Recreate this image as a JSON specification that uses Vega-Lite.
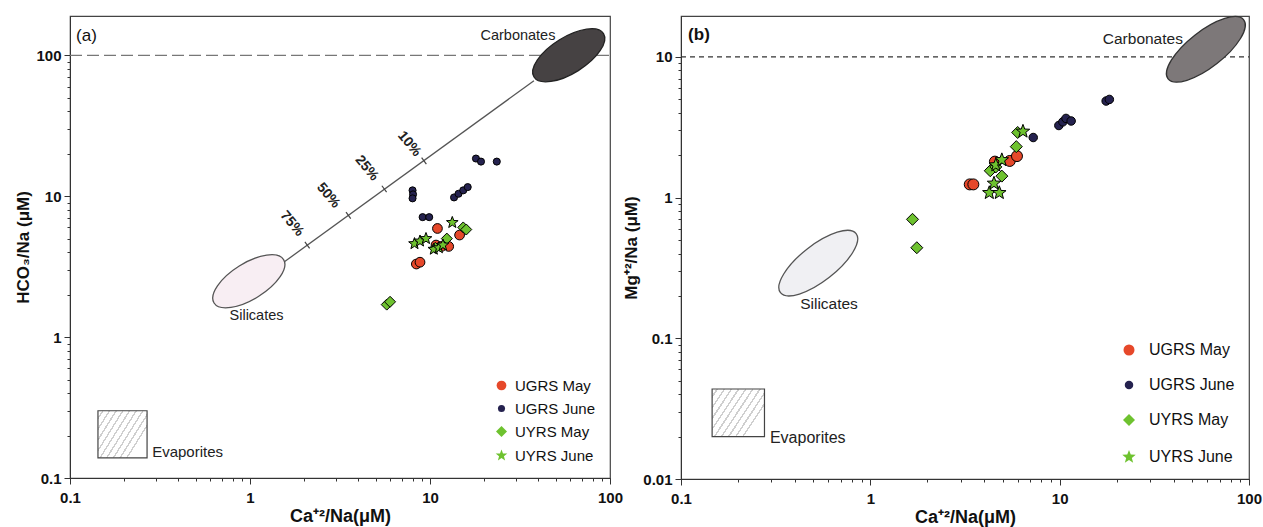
{
  "$schema": "https://vega.github.io/schema/vega-lite/v6.json",
  "background": "white",
  "padding": {"left": 14, "top": 13, "right": 0, "bottom": 0},
  "bounds": "flush",
  "spacing": 71,
  "config": {
    "view": {"stroke": "#444", "strokeWidth": 1.2},
    "font": "Liberation Sans",
    "axis": {
      "labelFont": "Liberation Sans", "labelFontSize": 15, "labelFontWeight": "bold", "labelColor": "#111",
      "titleFont": "Liberation Sans", "titleFontSize": 18, "titleFontWeight": "bold", "titleColor": "#111",
      "grid": false, "domainColor": "#333", "tickColor": "#333", "labelOverlap": false, "labelFlush": false, "labelBound": false
    }
  },
  "resolve": {
    "scale": {"fill": "independent", "shape": "independent", "size": "independent"},
    "legend": {"fill": "independent", "shape": "independent", "size": "independent"}
  },
  "hconcat": [
    {
      "width": 540, "height": 462,
      "encoding": {
        "x": {"field": "x", "type": "quantitative",
          "scale": {"type": "log", "domain": [0.1, 100], "nice": false},
          "axis": {"title": "Ca⁺²/Na(μM)",
            "values": [0.1,0.2,0.3,0.4,0.5,0.6,0.7,0.8,0.9,1,2,3,4,5,6,7,8,9,10,20,30,40,50,60,70,80,90,100],
            "labelExpr": "abs(log(datum.value)/LN10 - round(log(datum.value)/LN10)) < 0.01 ? format(datum.value, '~g') : ''",
            "tickSize": {"condition": {"test": "abs(log(datum.value)/LN10 - round(log(datum.value)/LN10)) < 0.01", "value": 6}, "value": 3},
            "labelPadding": 6, "titlePadding": 2}},
        "y": {"field": "y", "type": "quantitative",
          "scale": {"type": "log", "domain": [0.1, 190], "nice": false},
          "axis": {"title": "HCO₃/Na (μM)",
            "values": [0.1,0.2,0.3,0.4,0.5,0.6,0.7,0.8,0.9,1,2,3,4,5,6,7,8,9,10,20,30,40,50,60,70,80,90,100],
            "labelExpr": "abs(log(datum.value)/LN10 - round(log(datum.value)/LN10)) < 0.01 ? format(datum.value, '~g') : ''",
            "tickSize": {"condition": {"test": "abs(log(datum.value)/LN10 - round(log(datum.value)/LN10)) < 0.01", "value": 6}, "value": 3},
            "labelPadding": 3, "titlePadding": 3, "titleFontSize": 17}}
      },
      "layer": [
        {
          "data": {"values": [{"x": 0.1, "y": 100}, {"x": 100, "y": 100}]},
          "mark": {"type": "line", "color": "#777", "strokeWidth": 1.3, "strokeDash": [12, 5]}
        },
        {
          "data": {"values": [{"x": 0.143, "x2": 0.268, "y": 0.139, "y2": 0.30}]},
          "mark": {"type": "rect", "stroke": "#444", "strokeWidth": 1.2,
            "fill": {"gradient": "linear", "x1": 0, "y1": 0, "x2": 1, "y2": 0.6, "stops": [
              {"offset": 0, "color": "#ffffff"}, {"offset": 0.06, "color": "#ffffff"}, {"offset": 0.06, "color": "#cfcfcf"}, {"offset": 0.085, "color": "#cfcfcf"},
              {"offset": 0.085, "color": "#ffffff"}, {"offset": 0.16, "color": "#ffffff"}, {"offset": 0.16, "color": "#cfcfcf"}, {"offset": 0.185, "color": "#cfcfcf"},
              {"offset": 0.185, "color": "#ffffff"}, {"offset": 0.26, "color": "#ffffff"}, {"offset": 0.26, "color": "#cfcfcf"}, {"offset": 0.285, "color": "#cfcfcf"},
              {"offset": 0.285, "color": "#ffffff"}, {"offset": 0.36, "color": "#ffffff"}, {"offset": 0.36, "color": "#cfcfcf"}, {"offset": 0.385, "color": "#cfcfcf"},
              {"offset": 0.385, "color": "#ffffff"}, {"offset": 0.46, "color": "#ffffff"}, {"offset": 0.46, "color": "#cfcfcf"}, {"offset": 0.485, "color": "#cfcfcf"},
              {"offset": 0.485, "color": "#ffffff"}, {"offset": 0.56, "color": "#ffffff"}, {"offset": 0.56, "color": "#cfcfcf"}, {"offset": 0.585, "color": "#cfcfcf"},
              {"offset": 0.585, "color": "#ffffff"}, {"offset": 0.66, "color": "#ffffff"}, {"offset": 0.66, "color": "#cfcfcf"}, {"offset": 0.685, "color": "#cfcfcf"},
              {"offset": 0.685, "color": "#ffffff"}, {"offset": 0.76, "color": "#ffffff"}, {"offset": 0.76, "color": "#cfcfcf"}, {"offset": 0.785, "color": "#cfcfcf"},
              {"offset": 0.785, "color": "#ffffff"}, {"offset": 0.86, "color": "#ffffff"}, {"offset": 0.86, "color": "#cfcfcf"}, {"offset": 0.885, "color": "#cfcfcf"},
              {"offset": 0.885, "color": "#ffffff"}, {"offset": 1, "color": "#ffffff"}]}},
          "encoding": {"x2": {"field": "x2"}, "y2": {"field": "y2"}}
        },
        {
          "data": {"values": [{"x": 0.985, "y": 2.49}]},
          "mark": {"type": "point", "filled": true, "opacity": 1, "fill": "#f8eef3", "stroke": "#555", "strokeWidth": 1.3, "size": 6724, "angle": -32,
            "shape": "M-1,0C-1,-0.243,-0.552,-0.44,0,-0.44C0.552,-0.44,1,-0.243,1,0C1,0.243,0.552,0.44,0,0.44C-0.552,0.44,-1,0.243,-1,0Z"}
        },
        {
          "data": {"values": [{"x": 1.56, "y": 3.44}, {"x": 37.8, "y": 66}]},
          "mark": {"type": "line", "color": "#555", "strokeWidth": 1.3}
        },
        {
          "data": {"values": [{"x": 59.0, "y": 100}]},
          "mark": {"type": "point", "filled": true, "opacity": 1, "fill": "#464243", "stroke": "#222", "strokeWidth": 1.3, "size": 6724, "angle": -32,
            "shape": "M-1,0C-1,-0.243,-0.552,-0.44,0,-0.44C0.552,-0.44,1,-0.243,1,0C1,0.243,0.552,0.44,0,0.44C-0.552,0.44,-1,0.243,-1,0Z"}
        },
        {
          "data": {"values": [{"x": 2.08, "y": 4.5}, {"x": 3.52, "y": 7.3}, {"x": 5.57, "y": 11.25}, {"x": 9.26, "y": 17.8}]},
          "mark": {"type": "point", "shape": "stroke", "filled": false, "opacity": 1, "stroke": "#444", "strokeWidth": 1.2, "size": 64, "angle": 54}
        },
        {
          "data": {"values": [{"x": 1.71, "y": 6.37, "label": "75%"}, {"x": 2.72, "y": 10.1, "label": "50%"}, {"x": 4.45, "y": 15.8, "label": "25%"}, {"x": 7.67, "y": 23.5, "label": "10%"}]},
          "mark": {"type": "text", "angle": 50, "fontSize": 14, "fontWeight": "bold", "font": "Liberation Sans", "color": "#222", "align": "center", "baseline": "middle"},
          "encoding": {"text": {"field": "label"}}
        },
        {
          "data": {"values": [{"x": 30.8, "y": 138, "label": "Carbonates"}, {"x": 1.087, "y": 1.41, "label": "Silicates"}]},
          "mark": {"type": "text", "fontSize": 14.5, "font": "Liberation Sans", "color": "#222", "align": "center", "baseline": "middle"},
          "encoding": {"text": {"field": "label"}}
        },
        {
          "data": {"values": [{"x": 0.286, "y": 0.153, "label": "Evaporites"}]},
          "mark": {"type": "text", "fontSize": 15, "font": "Liberation Sans", "color": "#222", "align": "left", "baseline": "middle"},
          "encoding": {"text": {"field": "label"}}
        },
        {
          "data": {"values": [{"x": 0.108, "y": 136, "label": "(a)"}]},
          "mark": {"type": "text", "fontSize": 17, "font": "Liberation Sans", "color": "#111", "align": "left", "baseline": "middle"},
          "encoding": {"text": {"field": "label"}}
        },
        {
          "data": {"values": [
            {"x": 8.0, "y": 11.0, "series": "UGRS June"}, {"x": 8.05, "y": 10.3, "series": "UGRS June"}, {"x": 8.0, "y": 9.65, "series": "UGRS June"},
            {"x": 9.1, "y": 7.1, "series": "UGRS June"}, {"x": 9.9, "y": 7.1, "series": "UGRS June"},
            {"x": 13.6, "y": 9.8, "series": "UGRS June"}, {"x": 14.4, "y": 10.4, "series": "UGRS June"}, {"x": 15.3, "y": 11.0, "series": "UGRS June"}, {"x": 16.2, "y": 11.6, "series": "UGRS June"},
            {"x": 18.0, "y": 18.5, "series": "UGRS June"}, {"x": 19.2, "y": 17.6, "series": "UGRS June"}, {"x": 23.5, "y": 17.6, "series": "UGRS June"},
            {"x": 11.0, "y": 5.9, "series": "UGRS May"}, {"x": 8.4, "y": 3.3, "series": "UGRS May"}, {"x": 8.8, "y": 3.4, "series": "UGRS May"},
            {"x": 14.6, "y": 5.3, "series": "UGRS May"}, {"x": 10.8, "y": 4.5, "series": "UGRS May"}, {"x": 11.6, "y": 4.4, "series": "UGRS May"}, {"x": 12.7, "y": 4.4, "series": "UGRS May"},
            {"x": 5.75, "y": 1.70, "series": "UYRS May"}, {"x": 6.0, "y": 1.78, "series": "UYRS May"}, {"x": 15.3, "y": 6.0, "series": "UYRS May"},
            {"x": 15.9, "y": 5.8, "series": "UYRS May"}, {"x": 12.4, "y": 5.0, "series": "UYRS May"}, {"x": 10.7, "y": 4.3, "series": "UYRS May"},
            {"x": 8.2, "y": 4.6, "series": "UYRS June"}, {"x": 8.8, "y": 4.8, "series": "UYRS June"}, {"x": 9.5, "y": 5.0, "series": "UYRS June"},
            {"x": 13.3, "y": 6.5, "series": "UYRS June"}, {"x": 10.5, "y": 4.2, "series": "UYRS June"}, {"x": 11.2, "y": 4.3, "series": "UYRS June"}, {"x": 11.8, "y": 4.5, "series": "UYRS June"}
          ]},
          "mark": {"type": "point", "filled": true, "opacity": 1, "stroke": "#000", "strokeWidth": 1},
          "encoding": {
            "fill": {"field": "series", "type": "nominal",
              "scale": {"domain": ["UGRS May", "UGRS June", "UYRS May", "UYRS June"], "range": ["#e6482a", "#25224f", "#6ec22f", "#6ec22f"]},
              "legend": {"orient": "bottom-right", "offset": 14, "title": null, "labelFont": "Liberation Sans", "labelFontSize": 15, "labelColor": "#111", "rowPadding": 7, "labelOffset": 6, "symbolStrokeColor": "#000", "symbolStrokeWidth": 1, "padding": 0,
                "encode": {"symbols": {"update": {"stroke": {"value": "#000"}, "strokeWidth": {"value": 1}}}}}},
            "shape": {"field": "series", "type": "nominal",
              "scale": {"domain": ["UGRS May", "UGRS June", "UYRS May", "UYRS June"], "range": ["circle", "circle", "diamond", "M0,-1L0.247,-0.34L0.951,-0.309L0.399,0.13L0.588,0.809L0,0.42L-0.588,0.809L-0.399,0.13L-0.951,-0.309L-0.247,-0.34Z"]},
              "legend": {"orient": "bottom-right", "offset": 14, "title": null, "labelFont": "Liberation Sans", "labelFontSize": 15, "labelColor": "#111", "rowPadding": 7, "labelOffset": 6, "symbolStrokeColor": "#000", "symbolStrokeWidth": 1, "padding": 0,
                "encode": {"symbols": {"update": {"stroke": {"value": "#000"}, "strokeWidth": {"value": 1}}}}}},
            "size": {"field": "series", "type": "nominal",
              "scale": {"type": "ordinal", "domain": ["UGRS May", "UGRS June", "UYRS May", "UYRS June"], "range": [95, 50, 121, 150]},
              "legend": {"orient": "bottom-right", "offset": 14, "title": null, "labelFont": "Liberation Sans", "labelFontSize": 15, "labelColor": "#111", "rowPadding": 7, "labelOffset": 6, "symbolStrokeColor": "#000", "symbolStrokeWidth": 1, "padding": 0,
                "encode": {"symbols": {"update": {"stroke": {"value": "#000"}, "strokeWidth": {"value": 1}}}}}}
          }
        }
      ]
    },
    {
      "width": 568, "height": 463,
      "encoding": {
        "x": {"field": "x", "type": "quantitative",
          "scale": {"type": "log", "domain": [0.1, 100], "nice": false},
          "axis": {"title": "Ca⁺²/Na(μM)",
            "values": [0.1,0.2,0.3,0.4,0.5,0.6,0.7,0.8,0.9,1,2,3,4,5,6,7,8,9,10,20,30,40,50,60,70,80,90,100],
            "labelExpr": "abs(log(datum.value)/LN10 - round(log(datum.value)/LN10)) < 0.01 ? format(datum.value, '~g') : ''",
            "tickSize": {"condition": {"test": "abs(log(datum.value)/LN10 - round(log(datum.value)/LN10)) < 0.01", "value": 6}, "value": 3},
            "labelPadding": 6, "titlePadding": 2}},
        "y": {"field": "y", "type": "quantitative",
          "scale": {"type": "log", "domain": [0.01, 19.5], "nice": false},
          "axis": {"title": "Mg⁺²/Na (μM)",
            "values": [0.01,0.02,0.03,0.04,0.05,0.06,0.07,0.08,0.09,0.1,0.2,0.3,0.4,0.5,0.6,0.7,0.8,0.9,1,2,3,4,5,6,7,8,9,10],
            "labelExpr": "abs(log(datum.value)/LN10 - round(log(datum.value)/LN10)) < 0.01 ? format(datum.value, '~g') : ''",
            "tickSize": {"condition": {"test": "abs(log(datum.value)/LN10 - round(log(datum.value)/LN10)) < 0.01", "value": 6}, "value": 3},
            "labelPadding": 3, "titlePadding": 2, "titleFontSize": 17}}
      },
      "layer": [
        {
          "data": {"values": [{"x": 0.1, "y": 10}, {"x": 100, "y": 10}]},
          "mark": {"type": "line", "color": "#333", "strokeWidth": 1.2, "strokeDash": [5, 4]}
        },
        {
          "data": {"values": [{"x": 0.146, "x2": 0.276, "y": 0.020, "y2": 0.0436}]},
          "mark": {"type": "rect", "stroke": "#444", "strokeWidth": 1.2,
            "fill": {"gradient": "linear", "x1": 0, "y1": 0, "x2": 1, "y2": 0.6, "stops": [
              {"offset": 0, "color": "#ffffff"}, {"offset": 0.06, "color": "#ffffff"}, {"offset": 0.06, "color": "#cfcfcf"}, {"offset": 0.085, "color": "#cfcfcf"},
              {"offset": 0.085, "color": "#ffffff"}, {"offset": 0.16, "color": "#ffffff"}, {"offset": 0.16, "color": "#cfcfcf"}, {"offset": 0.185, "color": "#cfcfcf"},
              {"offset": 0.185, "color": "#ffffff"}, {"offset": 0.26, "color": "#ffffff"}, {"offset": 0.26, "color": "#cfcfcf"}, {"offset": 0.285, "color": "#cfcfcf"},
              {"offset": 0.285, "color": "#ffffff"}, {"offset": 0.36, "color": "#ffffff"}, {"offset": 0.36, "color": "#cfcfcf"}, {"offset": 0.385, "color": "#cfcfcf"},
              {"offset": 0.385, "color": "#ffffff"}, {"offset": 0.46, "color": "#ffffff"}, {"offset": 0.46, "color": "#cfcfcf"}, {"offset": 0.485, "color": "#cfcfcf"},
              {"offset": 0.485, "color": "#ffffff"}, {"offset": 0.56, "color": "#ffffff"}, {"offset": 0.56, "color": "#cfcfcf"}, {"offset": 0.585, "color": "#cfcfcf"},
              {"offset": 0.585, "color": "#ffffff"}, {"offset": 0.66, "color": "#ffffff"}, {"offset": 0.66, "color": "#cfcfcf"}, {"offset": 0.685, "color": "#cfcfcf"},
              {"offset": 0.685, "color": "#ffffff"}, {"offset": 0.76, "color": "#ffffff"}, {"offset": 0.76, "color": "#cfcfcf"}, {"offset": 0.785, "color": "#cfcfcf"},
              {"offset": 0.785, "color": "#ffffff"}, {"offset": 0.86, "color": "#ffffff"}, {"offset": 0.86, "color": "#cfcfcf"}, {"offset": 0.885, "color": "#cfcfcf"},
              {"offset": 0.885, "color": "#ffffff"}, {"offset": 1, "color": "#ffffff"}]}},
          "encoding": {"x2": {"field": "x2"}, "y2": {"field": "y2"}}
        },
        {
          "data": {"values": [{"x": 0.531, "y": 0.342}]},
          "mark": {"type": "point", "filled": true, "opacity": 1, "fill": "#f0f0f3", "stroke": "#555", "strokeWidth": 1.3, "size": 9216, "angle": -38,
            "shape": "M-1,0C-1,-0.207,-0.552,-0.375,0,-0.375C0.552,-0.375,1,-0.207,1,0C1,0.207,0.552,0.375,0,0.375C-0.552,0.375,-1,0.207,-1,0Z"}
        },
        {
          "data": {"values": [{"x": 59.2, "y": 11.3}]},
          "mark": {"type": "point", "filled": true, "opacity": 1, "fill": "#7d7879", "stroke": "#333", "strokeWidth": 1.3, "size": 9216, "angle": -38,
            "shape": "M-1,0C-1,-0.207,-0.552,-0.375,0,-0.375C0.552,-0.375,1,-0.207,1,0C1,0.207,0.552,0.375,0,0.375C-0.552,0.375,-1,0.207,-1,0Z"}
        },
        {
          "data": {"values": [{"x": 27.5, "y": 13.4, "label": "Carbonates"}, {"x": 0.605, "y": 0.176, "label": "Silicates"}]},
          "mark": {"type": "text", "fontSize": 15.5, "font": "Liberation Sans", "color": "#222", "align": "center", "baseline": "middle"},
          "encoding": {"text": {"field": "label"}}
        },
        {
          "data": {"values": [{"x": 0.295, "y": 0.0196, "label": "Evaporites"}]},
          "mark": {"type": "text", "fontSize": 16, "font": "Liberation Sans", "color": "#222", "align": "left", "baseline": "middle"},
          "encoding": {"text": {"field": "label"}}
        },
        {
          "data": {"values": [{"x": 0.109, "y": 14.2, "label": "(b)"}]},
          "mark": {"type": "text", "fontSize": 17, "fontWeight": "bold", "font": "Liberation Sans", "color": "#111", "align": "left", "baseline": "middle"},
          "encoding": {"text": {"field": "label"}}
        },
        {
          "data": {"values": [
            {"x": 7.25, "y": 2.67, "series": "UGRS June"}, {"x": 9.9, "y": 3.25, "series": "UGRS June"}, {"x": 10.4, "y": 3.45, "series": "UGRS June"},
            {"x": 10.8, "y": 3.65, "series": "UGRS June"}, {"x": 11.5, "y": 3.5, "series": "UGRS June"}, {"x": 17.6, "y": 4.85, "series": "UGRS June"}, {"x": 18.3, "y": 4.98, "series": "UGRS June"},
            {"x": 3.35, "y": 1.24, "series": "UGRS May"}, {"x": 3.5, "y": 1.24, "series": "UGRS May"}, {"x": 4.55, "y": 1.8, "series": "UGRS May"},
            {"x": 5.45, "y": 1.82, "series": "UGRS May"}, {"x": 5.95, "y": 1.97, "series": "UGRS May"},
            {"x": 1.67, "y": 0.70, "series": "UYRS May"}, {"x": 1.76, "y": 0.44, "series": "UYRS May"}, {"x": 4.3, "y": 1.55, "series": "UYRS May"},
            {"x": 4.6, "y": 1.65, "series": "UYRS May"}, {"x": 4.95, "y": 1.42, "series": "UYRS May"}, {"x": 5.9, "y": 2.3, "series": "UYRS May"}, {"x": 6.0, "y": 2.9, "series": "UYRS May"},
            {"x": 4.25, "y": 1.08, "series": "UYRS June"}, {"x": 4.8, "y": 1.08, "series": "UYRS June"}, {"x": 4.5, "y": 1.26, "series": "UYRS June"},
            {"x": 4.6, "y": 1.7, "series": "UYRS June"}, {"x": 4.95, "y": 1.85, "series": "UYRS June"}, {"x": 6.4, "y": 2.95, "series": "UYRS June"}
          ]},
          "mark": {"type": "point", "filled": true, "opacity": 1, "stroke": "#000", "strokeWidth": 1},
          "encoding": {
            "fill": {"field": "series", "type": "nominal",
              "scale": {"domain": ["UGRS May", "UGRS June", "UYRS May", "UYRS June"], "range": ["#e6482a", "#25224f", "#6ec22f", "#6ec22f"]},
              "legend": {"orient": "bottom-right", "offset": 14, "title": null, "labelFont": "Liberation Sans", "labelFontSize": 16, "labelColor": "#111", "rowPadding": 19, "labelOffset": 12, "symbolStrokeColor": "#000", "symbolStrokeWidth": 1, "padding": 0,
                "encode": {"symbols": {"update": {"stroke": {"value": "#000"}, "strokeWidth": {"value": 1}}}}}},
            "shape": {"field": "series", "type": "nominal",
              "scale": {"domain": ["UGRS May", "UGRS June", "UYRS May", "UYRS June"], "range": ["circle", "circle", "diamond", "M0,-1L0.247,-0.34L0.951,-0.309L0.399,0.13L0.588,0.809L0,0.42L-0.588,0.809L-0.399,0.13L-0.951,-0.309L-0.247,-0.34Z"]},
              "legend": {"orient": "bottom-right", "offset": 14, "title": null, "labelFont": "Liberation Sans", "labelFontSize": 16, "labelColor": "#111", "rowPadding": 19, "labelOffset": 12, "symbolStrokeColor": "#000", "symbolStrokeWidth": 1, "padding": 0,
                "encode": {"symbols": {"update": {"stroke": {"value": "#000"}, "strokeWidth": {"value": 1}}}}}},
            "size": {"field": "series", "type": "nominal",
              "scale": {"type": "ordinal", "domain": ["UGRS May", "UGRS June", "UYRS May", "UYRS June"], "range": [121, 72, 144, 200]},
              "legend": {"orient": "bottom-right", "offset": 14, "title": null, "labelFont": "Liberation Sans", "labelFontSize": 16, "labelColor": "#111", "rowPadding": 19, "labelOffset": 12, "symbolStrokeColor": "#000", "symbolStrokeWidth": 1, "padding": 0,
                "encode": {"symbols": {"update": {"stroke": {"value": "#000"}, "strokeWidth": {"value": 1}}}}}}
          }
        }
      ]
    }
  ]
}
